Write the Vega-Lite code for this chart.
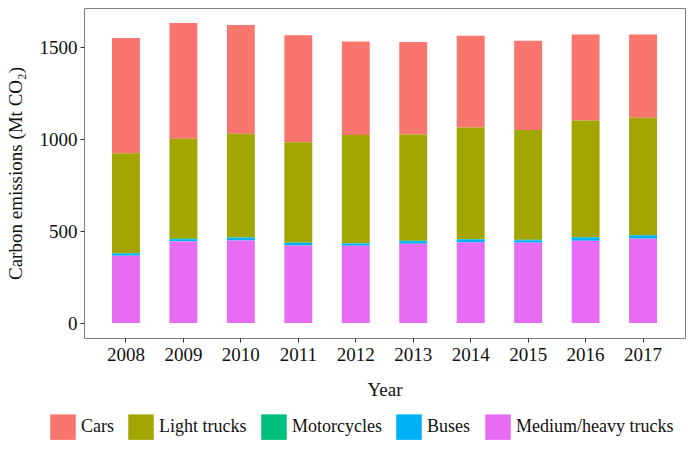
{
  "$schema": "https://vega.github.io/schema/vega-lite/v6.json",
  "width": 601,
  "height": 330,
  "autosize": {"type": "none"},
  "padding": {"left": 84, "top": 8, "right": 7, "bottom": 112},
  "background": "white",
  "config": {
    "font": "Liberation Serif",
    "view": {"stroke": "#7f7f7f", "strokeWidth": 1},
    "axis": {"grid": false, "domain": false, "tickColor": "#333333", "tickSize": 4, "labelColor": "#111111", "labelFontSize": 19, "titleFontSize": 19, "titleFontWeight": "normal", "titleColor": "#111111", "labelFont": "Liberation Serif", "titleFont": "Liberation Serif"},
    "legend": {"labelFont": "Liberation Serif", "labelFontSize": 18, "labelColor": "#111111", "labelLimit": 400}
  },
  "data": {"values": [
    {"year": "2008", "type": "Cars", "value": 628},
    {"year": "2008", "type": "Light trucks", "value": 542},
    {"year": "2008", "type": "Motorcycles", "value": 3},
    {"year": "2008", "type": "Buses", "value": 12},
    {"year": "2008", "type": "Medium/heavy trucks", "value": 366},
    {"year": "2009", "type": "Cars", "value": 629},
    {"year": "2009", "type": "Light trucks", "value": 544},
    {"year": "2009", "type": "Motorcycles", "value": 3},
    {"year": "2009", "type": "Buses", "value": 12},
    {"year": "2009", "type": "Medium/heavy trucks", "value": 444},
    {"year": "2010", "type": "Cars", "value": 591},
    {"year": "2010", "type": "Light trucks", "value": 564},
    {"year": "2010", "type": "Motorcycles", "value": 3},
    {"year": "2010", "type": "Buses", "value": 14},
    {"year": "2010", "type": "Medium/heavy trucks", "value": 449},
    {"year": "2011", "type": "Cars", "value": 582},
    {"year": "2011", "type": "Light trucks", "value": 545},
    {"year": "2011", "type": "Motorcycles", "value": 3},
    {"year": "2011", "type": "Buses", "value": 13},
    {"year": "2011", "type": "Medium/heavy trucks", "value": 422},
    {"year": "2012", "type": "Cars", "value": 508},
    {"year": "2012", "type": "Light trucks", "value": 588},
    {"year": "2012", "type": "Motorcycles", "value": 3},
    {"year": "2012", "type": "Buses", "value": 12},
    {"year": "2012", "type": "Medium/heavy trucks", "value": 420},
    {"year": "2013", "type": "Cars", "value": 503},
    {"year": "2013", "type": "Light trucks", "value": 578},
    {"year": "2013", "type": "Motorcycles", "value": 3},
    {"year": "2013", "type": "Buses", "value": 14},
    {"year": "2013", "type": "Medium/heavy trucks", "value": 431},
    {"year": "2014", "type": "Cars", "value": 498},
    {"year": "2014", "type": "Light trucks", "value": 607},
    {"year": "2014", "type": "Motorcycles", "value": 3},
    {"year": "2014", "type": "Buses", "value": 16},
    {"year": "2014", "type": "Medium/heavy trucks", "value": 438},
    {"year": "2015", "type": "Cars", "value": 486},
    {"year": "2015", "type": "Light trucks", "value": 597},
    {"year": "2015", "type": "Motorcycles", "value": 3},
    {"year": "2015", "type": "Buses", "value": 13},
    {"year": "2015", "type": "Medium/heavy trucks", "value": 437},
    {"year": "2016", "type": "Cars", "value": 469},
    {"year": "2016", "type": "Light trucks", "value": 633},
    {"year": "2016", "type": "Motorcycles", "value": 3},
    {"year": "2016", "type": "Buses", "value": 17},
    {"year": "2016", "type": "Medium/heavy trucks", "value": 448},
    {"year": "2017", "type": "Cars", "value": 453},
    {"year": "2017", "type": "Light trucks", "value": 638},
    {"year": "2017", "type": "Motorcycles", "value": 3},
    {"year": "2017", "type": "Buses", "value": 17},
    {"year": "2017", "type": "Medium/heavy trucks", "value": 459}
  ]},
  "transform": [
    {"calculate": "indexof(['Medium/heavy trucks', 'Buses', 'Motorcycles', 'Light trucks', 'Cars'], datum.type)", "as": "stackOrder"}
  ],
  "mark": {"type": "bar"},
  "encoding": {
    "x": {
      "field": "year", "type": "nominal",
      "scale": {"paddingInner": 0.514, "paddingOuter": 0.487},
      "axis": {"title": "Year", "labelAngle": 0, "labelPadding": 3, "titlePadding": 16}
    },
    "y": {
      "field": "value", "type": "quantitative", "aggregate": "sum", "stack": "zero",
      "scale": {"domain": [-81.6, 1713.6], "nice": false, "zero": false},
      "axis": {"title": "Carbon emissions (Mt CO₂)", "values": [0, 500, 1000, 1500], "format": "d", "labelPadding": 3, "titlePadding": 14}
    },
    "order": {"field": "stackOrder", "type": "quantitative", "sort": "ascending"},
    "color": {
      "field": "type", "type": "nominal",
      "sort": ["Cars", "Light trucks", "Motorcycles", "Buses", "Medium/heavy trucks"],
      "scale": {"domain": ["Cars", "Light trucks", "Motorcycles", "Buses", "Medium/heavy trucks"], "range": ["#F8766D", "#A3A500", "#00BF7D", "#00B0F6", "#E76BF3"]},
      "legend": {"title": null, "orient": "none", "direction": "horizontal", "legendX": -34, "legendY": 406, "symbolType": "square", "symbolSize": 650, "symbolStrokeWidth": 0, "symbolOpacity": 1, "labelOffset": 5, "columnPadding": 14}
    }
  }
}
